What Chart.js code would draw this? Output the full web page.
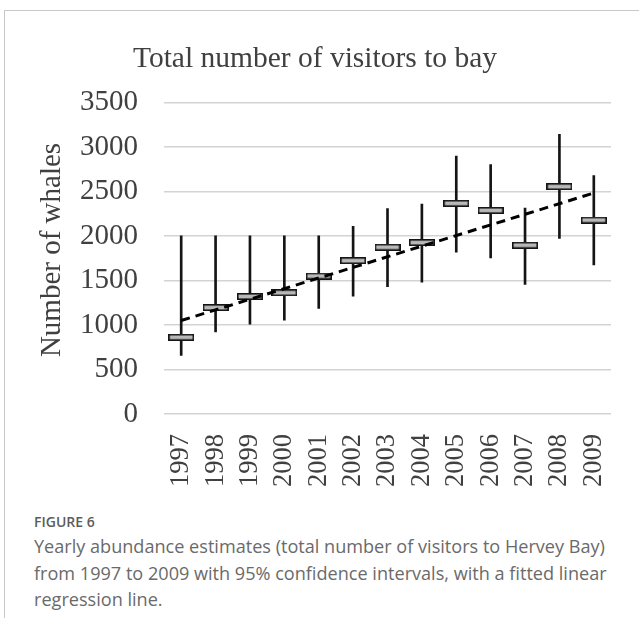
<!DOCTYPE html>
<html>
<head>
<meta charset="utf-8">
<script src="https://cdn.jsdelivr.net/npm/chart.js@4.4.0/dist/chart.umd.min.js"></script>
<style>
  html, body { margin: 0; padding: 0; background: #fff; }
  body { width: 639px; height: 618px; position: relative; overflow: hidden; }
  .frame { position: absolute; left: 4px; top: 10px; right: 0; bottom: 0;
           border-top: 1px solid #c8c8c8; border-left: 1px solid #c8c8c8; }
  #wrap { position: absolute; left: 0; top: 0; width: 639px; height: 507px; }
  .caption { position: absolute; left: 34px; top: 513px; font-family: "Open Sans", sans-serif; color: #6a6a6a; }
  .caption .fig { font-size: 14px; font-weight: 600; color: #5c5c5c; line-height: 18px; }
  .caption .txt { font-size: 18.1px; line-height: 26.7px; white-space: nowrap; margin-top: 2px; }
</style>
</head>
<body>
<div class="frame"></div>
<div id="wrap"><canvas id="c" width="639" height="507"></canvas></div>
<div class="caption">
  <div class="fig">FIGURE 6</div>
  <div class="txt">Yearly abundance estimates (total number of visitors to Hervey Bay)<br>from 1997 to 2009 with 95% confidence intervals, with a fitted linear<br>regression line.</div>
</div>
<script>
// Survey years
const years = ['1997','1998','1999','2000','2001','2002','2003','2004','2005','2006','2007','2008','2009'];
// Abundance estimate per year
const estimates = [862, 1196, 1320, 1362, 1550, 1723, 1873, 1926, 2366, 2287, 1896, 2554, 2178];
// 95% confidence interval bounds
const lower = [659, 922, 1008, 1053, 1185, 1324, 1429, 1482, 1817, 1753, 1456, 1971, 1674];
const upper = [2000, 2000, 2000, 2000, 2000, 2107, 2306, 2358, 2896, 2802, 2313, 3141, 2679];
// Fitted regression line at the first and last year
const trendStart = 1050;
const trendEnd = 2482;

const serif = "'Liberation Serif', 'Times New Roman', serif";
const textColor = '#404040';

// Small rectangle marker used for each estimate
const boxMark = document.createElement('canvas');
boxMark.width = 26; boxMark.height = 7;
(function () {
  const g = boxMark.getContext('2d');
  g.fillStyle = '#b8b8b8';
  g.fillRect(1, 1, 24, 5);
  g.strokeStyle = '#151515';
  g.lineWidth = 1.6;
  g.strokeRect(0.8, 0.8, 24.4, 5.4);
})();

const trendData = years.map((_, i) => i === 0 ? trendStart : (i === years.length - 1 ? trendEnd : null));

// Rotated y-axis title
const yTitle = {
  id: 'yTitle',
  afterDraw(chart) {
    const ctx = chart.ctx;
    ctx.save();
    ctx.translate(52, 250);
    ctx.rotate(-Math.PI / 2);
    ctx.font = '29px ' + serif;
    ctx.fillStyle = textColor;
    ctx.textAlign = 'center';
    ctx.textBaseline = 'middle';
    ctx.fillText('Number of whales', 0, 0);
    ctx.restore();
  }
};

new Chart(document.getElementById('c'), {
  type: 'bar',
  data: {
    labels: years,
    datasets: [
      {
        type: 'line',
        data: trendData,
        spanGaps: true,
        borderColor: '#000',
        borderWidth: 3,
        borderDash: [9, 6],
        pointRadius: 0,
        order: 0
      },
      {
        type: 'line',
        data: estimates,
        showLine: false,
        pointStyle: boxMark,
        pointRadius: 6,
        order: 1
      },
      {
        type: 'bar',
        data: lower.map((l, i) => [l, upper[i]]),
        backgroundColor: '#151515',
        borderWidth: 0,
        barThickness: 2,
        order: 2
      }
    ]
  },
  options: {
    responsive: false,
    animation: false,
    devicePixelRatio: 1,
    layout: { padding: { left: 19, right: 28, top: 0, bottom: 0 } },
    plugins: {
      legend: { display: false },
      tooltip: { enabled: false },
      title: {
        display: true,
        text: 'Total number of visitors to bay',
        color: textColor,
        font: { family: serif, size: 29.5, weight: 'normal' },
        padding: { top: 42, bottom: 25 }
      }
    },
    scales: {
      x: {
        offset: true,
        afterFit(scale) { scale.paddingLeft = 0; scale.paddingRight = 0; },
        grid: { display: false, drawTicks: false },
        border: { display: false },
        ticks: {
          color: textColor,
          font: { family: serif, size: 26.5 },
          minRotation: 90,
          maxRotation: 90,
          padding: 20,
          autoSkip: false
        }
      },
      y: {
        min: 0,
        max: 3500,
        afterFit(scale) { scale.width = 145; },
        grid: { color: '#d3d3d3', lineWidth: 1.5, drawTicks: false },
        border: { display: false },
        ticks: {
          stepSize: 500,
          color: textColor,
          font: { family: serif, size: 29 },
          padding: 26,
          callback: (v) => String(v)
        }
      }
    }
  },
  plugins: [yTitle]
});
</script>
</body>
</html>
